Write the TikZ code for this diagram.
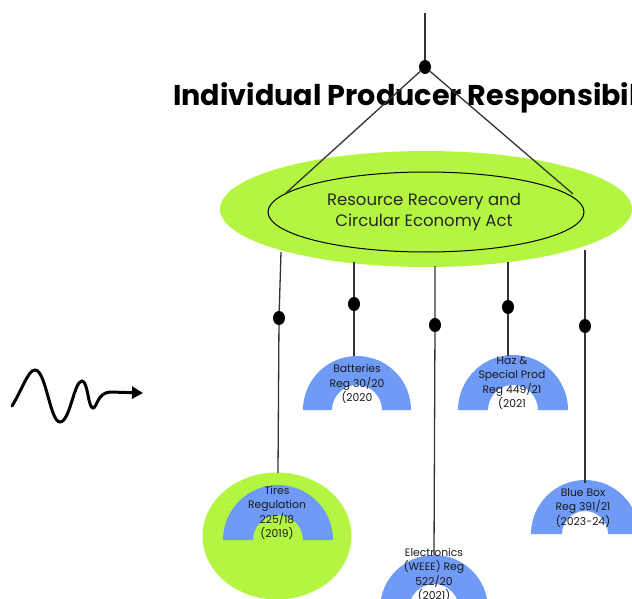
\documentclass[tikz,border=0pt]{standalone}
\usepackage{fontspec}
\setmainfont{Poppins}
\usetikzlibrary{shapes.geometric,arrows.meta}
\definecolor{limegreen}{RGB}{180,245,66}
\definecolor{archblue}{RGB}{111,155,246}
\newcommand\archfill[4]{% cx cy R r
  \fill[archblue] (#1-#3,#2) arc[start angle=180,end angle=360,radius=#3]
    -- (#1+#4,#2) arc[start angle=360,end angle=180,radius=#4] -- cycle;}
\begin{document}
\begin{tikzpicture}[x=1pt,y=-1pt,
  dot/.style={ellipse,fill=black,minimum width=12pt,minimum height=14pt,inner sep=0pt},
  wire/.style={line width=1.3pt,draw=black!80},
  small/.style={font=\fontsize{10.8}{14.5}\selectfont,align=center,text=black!90,inner sep=0pt},
  title/.style={font=\fontsize{28.6}{30}\selectfont\bfseries,anchor=base west,inner sep=0pt}]
\useasboundingbox (0,0) rectangle (632,599);
\clip (0,0) rectangle (632,599);
% big green ellipse
\node[ellipse,fill=limegreen,minimum width=412pt,minimum height=116pt,inner sep=0pt] (big) at (426,209) {};
\node[ellipse,draw=black,line width=1pt,minimum width=316pt,minimum height=80pt,inner sep=0pt] (act) at (426,212) {};
\node[font=\fontsize{16.5}{21}\selectfont,align=center,inner sep=0pt,text=black!85] (acttext) at (424,212) {Resource Recovery and\\Circular Economy Act};
% title
\node[title] (ttl) at (173,106) {Individual Producer Responsibil};
% top connector
\coordinate (top) at (425,13);
\node[dot] (d0) at (425,67) {};
\coordinate (al) at (286,193);
\coordinate (ar) at (573,194);
\draw[wire] (top) -- (d0);
\draw[wire] (d0) -- (al);
\draw[wire] (d0) -- (ar);
% Tires green circle
\node[ellipse,fill=limegreen,minimum width=149pt,minimum height=127pt,inner sep=0pt] (tiresbg) at (277,536) {};
% arches
\archfill{278}{540}{55}{25}
\archfill{357}{410}{54}{25}
\archfill{513}{410}{55}{25}
\archfill{585}{534}{54}{23}
\archfill{434}{609}{54}{25}
% arch tops
\coordinate (tt) at (278,473);
\coordinate (bt) at (354,356);
\coordinate (ht) at (508,356);
\coordinate (bbt) at (585,483);
\coordinate (et) at (434,555);
% sources on big ellipse
\coordinate (s1) at (281,252);
\coordinate (s2) at (354,262);
\coordinate (s3) at (435,266);
\coordinate (s4) at (508,262);
\coordinate (s5) at (585,250);
% dots
\node[dot] (dt) at (279,318) {};
\node[dot] (db) at (354,304) {};
\node[dot] (de) at (435,325) {};
\node[dot] (dh) at (508,307) {};
\node[dot] (dbb) at (585,326) {};
\draw[wire] (s1) -- (dt) -- (tt);
\draw[wire] (s2) -- (db) -- (bt);
\draw[wire] (s3) -- (de) -- (et);
\draw[wire] (s4) -- (dh) -- (ht);
\draw[wire] (s5) -- (dbb) -- (bbt);
% labels
\node[small] (tires) at (277,513) {Tires\\Regulation\\225/18\\(2019)};
\node[small] (batt) at (357,384) {Batteries\\Reg 30/20\\(2020};
\node[small] (haz) at (512,383) {Haz \&\\Special Prod\\Reg 449/21\\(2021};
\node[small] (bbox) at (583,508) {Blue Box\\Reg 391/21\\(2023-24)};
\node[small] (elec) at (434,575) {Electronics\\(WEEE) Reg\\522/20\\(2021)};
% wave arrow
\coordinate (w0) at (12,406);
\coordinate (w1) at (143,393);
\draw[line width=3pt,line cap=round,-{Triangle[length=11pt,width=12pt]}]
  (w0) .. controls (22,390) and (28,370) .. (35,370)
  .. controls (46,370) and (50,422) .. (60,422)
  .. controls (70,422) and (74,381) .. (82,381)
  .. controls (88,381) and (88,408) .. (93,408)
  .. controls (97,408) and (97,393) .. (110,392)
  -- (w1);
\end{tikzpicture}
\end{document}
